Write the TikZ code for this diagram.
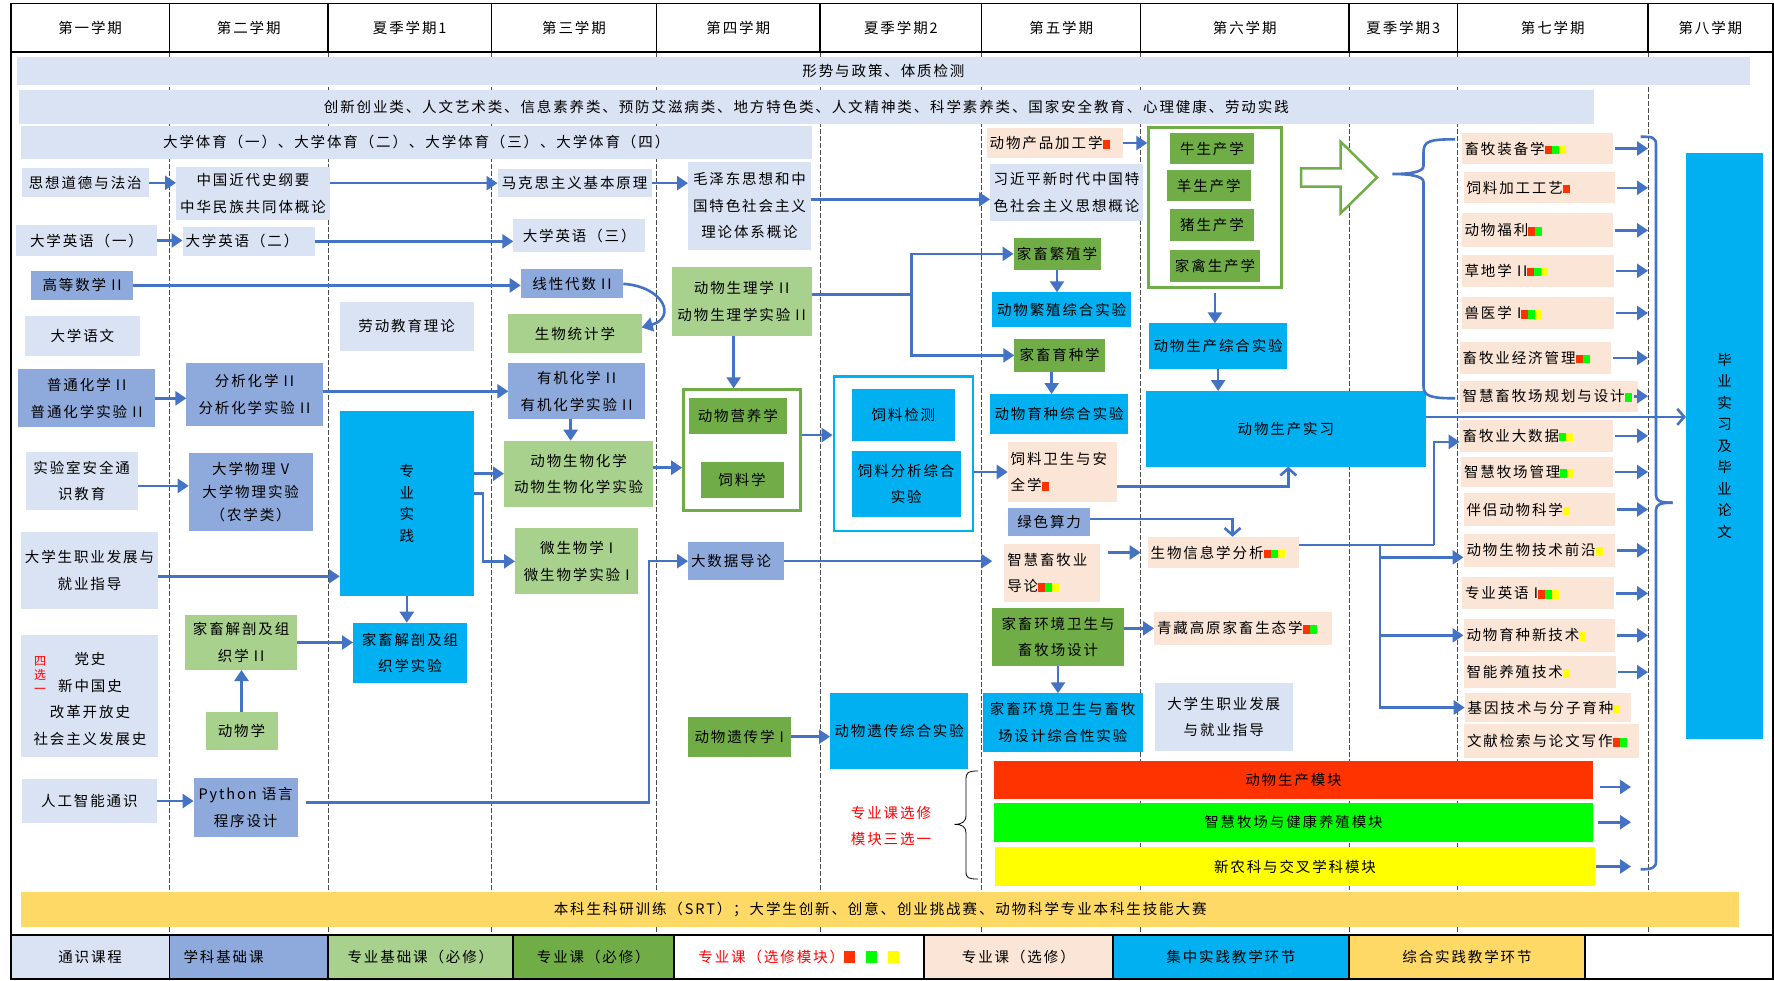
\documentclass[tikz,border=0pt]{standalone}
\usepackage{fontspec}
\setmainfont{Noto Sans CJK SC}[LetterSpace=13]
\usetikzlibrary{arrows.meta}
\definecolor{cgen}{HTML}{DAE3F3}
\definecolor{cbase}{HTML}{8EA9DB}
\definecolor{cpb}{HTML}{A9D18E}
\definecolor{cpm}{HTML}{70AD47}
\definecolor{cel}{HTML}{FBE5D6}
\definecolor{cpr}{HTML}{00B0F0}
\definecolor{csy}{HTML}{FFD966}
\definecolor{cln}{HTML}{4472C4}
\definecolor{mred}{HTML}{FF3300}
\definecolor{mgrn}{HTML}{00FF00}
\definecolor{myel}{HTML}{FFFF00}
\newcommand\mkR{\textcolor{mred}{\rule{7pt}{8.5pt}}}
\newcommand\mkG{\textcolor{mgrn}{\rule{7pt}{8.5pt}}}
\newcommand\mkY{\textcolor{myel}{\rule{7pt}{8.5pt}}}
\newcommand\bx[7]{\node[#6,anchor=north west,minimum width={(#4)-(#2)},minimum height={(#5)-(#3)}] (#1) at (#2,#3) {#7};}
\newcommand\bxl[7]{\node[#6,anchor=north west,minimum width={(#4)-(#2)},minimum height={(#5)-(#3)}] (#1) at (#2,#3) {};\node[#6,fill=none,draw=none,anchor=west,align=left] (#1t) at ([xshift=3pt]#1.west) {#7};}
\begin{document}
\begin{tikzpicture}[x=1pt,y=-1pt,
 bb/.style={inner sep=0pt,outer sep=0pt,align=center,font=\fontsize{14.5}{26.5}\selectfont},
 gen/.style={bb,fill=cgen},
 base/.style={bb,fill=cbase},
 pb/.style={bb,fill=cpb},
 pm/.style={bb,fill=cpm},
 el/.style={bb,fill=cel},
 pr/.style={bb,fill=cpr},
 vt/.style={font=\fontsize{14.5}{21.5}\selectfont},
 arr/.style={draw=cln,line width=2.6pt,-{Triangle[length=11pt,width=14pt]}},
 oarr/.style={draw=cln,line width=2.6pt,-{Straight Barb[length=7pt,width=16pt]}},
 bl/.style={draw=cln,line width=2.6pt},
 divl/.style={line width=0.9pt,black!70,dash pattern=on 5pt off 2pt},
 hd/.style={inner sep=0pt,font=\fontsize{14.5}{17}\selectfont}]
\useasboundingbox (0,0) rectangle (1774,980);
\fill[white] (0,0) rectangle (1774,980);

% column dividers
\foreach \x in {169.5,328,491.4,656.5,820,981.8,1140.6,1349,1457.5,1648}{
  \draw[line width=1.2pt] (\x,3.3) -- (\x,51.7);
  \draw[divl] (\x,51.7) -- (\x,935);
}
% header labels
\node[hd] (h1) at (90.1,27.5) {第一学期};
\node[hd] (h2) at (248.75,27.5) {第二学期};
\node[hd] (h3) at (409.7,27.5) {夏季学期1};
\node[hd] (h4) at (574,27.5) {第三学期};
\node[hd] (h5) at (738.25,27.5) {第四学期};
\node[hd] (h6) at (900.9,27.5) {夏季学期2};
\node[hd] (h7) at (1061.2,27.5) {第五学期};
\node[hd] (h8) at (1244.8,27.5) {第六学期};
\node[hd] (h9) at (1403.25,27.5) {夏季学期3};
\node[hd] (h10) at (1552.75,27.5) {第七学期};
\node[hd] (h11) at (1710.4,27.5) {第八学期};

% long bars
\bx{b1}{17.2}{56.7}{1749.7}{85}{gen}{形势与政策、体质检测}
\bx{b2}{19}{90}{1593.7}{124}{gen}{创新创业类、人文艺术类、信息素养类、预防艾滋病类、地方特色类、人文精神类、科学素养类、国家安全教育、心理健康、劳动实践}
\bx{b3}{21}{126}{811.5}{158.7}{gen}{大学体育（一）、大学体育（二）、大学体育（三）、大学体育（四）}

% column 1
\bx{sx}{22}{168.3}{148.5}{197.3}{gen}{思想道德与法治}
\bx{e1}{16}{225}{157}{256}{gen}{大学英语（一）}
\bx{gs}{31.4}{270.7}{132.8}{300}{base}{高等数学 II}
\bx{dyw}{25}{316}{139.7}{356}{gen}{大学语文}
\bx{ph}{18.4}{369.3}{155}{427.3}{base}{普通化学 II\\普通化学实验 II}
\bx{sy}{25.6}{451.7}{137.8}{510}{gen}{实验室安全通\\识教育}
\bx{zy}{21}{531.7}{158}{609}{gen}{大学生职业发展与\\就业指导}
\bx{sx4}{21}{635}{158}{757.3}{gen}{}
\node[bb,align=center] (sx4t) at (90,699) {党史\\新中国史\\改革开放史\\社会主义发展史};
\node[inner sep=0pt,text=red,align=center,font=\fontsize{12}{14}\selectfont] (sx4r) at (40,675) {四\\选\\一};
\bx{ai}{21.8}{779.3}{157}{822.7}{gen}{人工智能通识}

% column 2
\bx{zg}{176}{167.3}{330}{220}{gen}{中国近代史纲要\\中华民族共同体概论}
\bxl{e2}{182.5}{226.7}{314.6}{256}{gen}{大学英语（二）}
\bx{fx}{186.4}{363.3}{322.6}{425.7}{base}{分析化学 II\\分析化学实验 II}
\bx{wl}{188.7}{452.7}{312.7}{531}{base,font=\fontsize{14.5}{23}\selectfont}{大学物理 V\\大学物理实验\\（农学类）}
\bx{jp2}{184.8}{615}{297.4}{670}{pb}{家畜解剖及组\\织学 II}
\bx{dwx}{205.5}{711.7}{277.5}{750}{pb}{动物学}
\bx{py}{193.6}{778.3}{297.7}{836.7}{base}{Python 语言\\程序设计}

% column 3
\bx{ld}{339.5}{301.7}{473.8}{350.7}{gen}{劳动教育理论}
\bx{zs}{339.8}{410.7}{473.8}{595.7}{pr,vt}{专\\业\\实\\践}
\bx{jps}{353}{622.7}{467}{682.7}{pr}{家畜解剖及组\\织学实验}

% column 4
\bx{mk}{497.5}{169}{651.6}{197.3}{gen}{马克思主义基本原理}
\bx{e3}{513.3}{219.3}{645}{251.7}{gen}{大学英语（三）}
\bx{xd}{520.7}{269.3}{623.3}{298.3}{base}{线性代数 II}
\bx{sb}{508.3}{314.3}{641.7}{352.7}{pb}{生物统计学}
\bx{yj}{508.3}{363.3}{645}{419.3}{base}{有机化学 II\\有机化学实验 II}
\bx{dsh}{504}{440.7}{653.3}{506.7}{pb}{动物生物化学\\动物生物化学实验}
\bx{wsw}{515}{528.3}{638.3}{594.3}{pb}{微生物学 I\\微生物学实验 I}

% column 5
\bx{mz}{688}{161.7}{811}{250}{gen}{毛泽东思想和中\\国特色社会主义\\理论体系概论}
\bx{dsl}{671.8}{266.7}{811.5}{336}{pb}{动物生理学 II\\动物生理学实验 II}
\node[draw=cpm,line width=2.5pt,fill=white,anchor=north west,inner sep=0pt,minimum width=116.8pt,minimum height=121pt] (yyo) at (682.2,388.3) {};
\bx{yy}{689}{398.3}{786.7}{434.3}{pm}{动物营养学}
\bx{slx}{700.5}{462.3}{783.6}{498.3}{pm}{饲料学}
\bxl{dsj}{688}{542.3}{783.6}{580}{base}{大数据导论}
\bx{yc}{688}{716.7}{790.5}{756.7}{pm}{动物遗传学 I}

% column 6
\node[draw=cpr,line width=2.5pt,fill=white,anchor=north west,inner sep=0pt,minimum width=139pt,minimum height=154.5pt] (slo) at (832.6,375) {};
\bx{sjc}{851.7}{389.3}{955}{440.7}{pr}{饲料检测}
\bx{sfx}{851.7}{450.5}{960.7}{517}{pr}{饲料分析综合\\实验}
\bx{ycz}{830}{692.7}{968.4}{769.3}{pr}{动物遗传综合实验}
\node[bb,text=red,font=\fontsize{14.5}{26.7}\selectfont] (xxm) at (891,826) {专业课选修\\模块三选一};
\draw[line width=0.8pt] (978,771) .. controls (968,771) and (966,772) .. (966,780) -- (966,815) .. controls (966,822) and (962,824.3) .. (954.3,824.3) .. controls (962,824.3) and (966,826.6) .. (966,833) -- (966,871) .. controls (966,878) and (968,879) .. (978,879);

% column 7
\bxl{dpj}{986.7}{128.3}{1123.3}{157.7}{el}{动物产品加工学\mkR}
\bx{xj}{990}{164}{1143}{220.7}{gen}{习近平新时代中国特\\色社会主义思想概论}
\bx{fz}{1013.5}{237.7}{1100.5}{270}{pm}{家畜繁殖学}
\bx{fzz}{992.3}{292.3}{1131}{327.3}{pr}{动物繁殖综合实验}
\bx{yz}{1014.3}{339}{1105}{371.7}{pm}{家畜育种学}
\bx{yzz}{990}{394}{1128.3}{434.3}{pr}{动物育种综合实验}
\bxl{swa}{1007.7}{442.3}{1117.3}{501.7}{el}{饲料卫生与安\\全学\mkR}
\bx{lsl}{1008.3}{508.3}{1090}{535.7}{base}{绿色算力}
\bxl{zhd}{1004.3}{544.3}{1100}{601.7}{el}{智慧畜牧业\\导论\mkR\mkG\mkY}
\bx{hj}{991.7}{608.3}{1124.3}{666}{pm}{家畜环境卫生与\\畜牧场设计}
\bx{hjz}{982.7}{693.3}{1142.7}{751.7}{pr}{家畜环境卫生与畜牧\\场设计综合性实验}

% module bars
\bx{mr}{994}{761}{1593}{799}{bb,fill=mred}{动物生产模块}
\bx{mg}{994}{802.7}{1593}{841.7}{bb,fill=mgrn}{智慧牧场与健康养殖模块}
\bx{my}{995}{847.3}{1595}{885.7}{bb,fill=myel}{新农科与交叉学科模块}

% column 8
\node[draw=cpm,line width=2.5pt,fill=white,anchor=north west,inner sep=0pt,minimum width=132.7pt,minimum height=160pt] (gbox) at (1147.3,126) {};
\bx{n1}{1170}{132.7}{1254}{164.3}{pm}{牛生产学}
\bx{n2}{1166.7}{170}{1250.7}{201}{pm}{羊生产学}
\bx{n3}{1170}{209}{1254}{240.7}{pm}{猪生产学}
\bx{n4}{1170}{250}{1260}{281.7}{pm}{家禽生产学}
\bx{scz}{1149}{323.3}{1287.3}{369.3}{pr}{动物生产综合实验}
\bx{scs}{1145.7}{391}{1426}{466.7}{pr}{动物生产实习}
\bxl{sxx}{1147.7}{536.7}{1299.3}{568.3}{el}{生物信息学分析\mkR\mkG\mkY}
\bxl{qz}{1154}{611.7}{1331.8}{645}{el}{青藏高原家畜生态学\mkR\mkG}
\bx{zy2}{1155}{683.3}{1292.5}{750.7}{gen}{大学生职业发展\\与就业指导}
\draw[draw=cpm,line width=2.5pt,fill=white] (1301,168.3) -- (1340.6,168.3) -- (1340.6,141.7) -- (1377,177.5) -- (1340.6,213.3) -- (1340.6,186.7) -- (1301,186.7) -- cycle;

% column 10 electives
\bxl{k1}{1461.6}{132.7}{1613}{164.3}{el}{畜牧装备学\mkR\mkG\mkY}
\bxl{k2}{1463.5}{172.3}{1615}{203.3}{el}{饲料加工工艺\mkR}
\bxl{k3}{1461.6}{213.3}{1613}{247.3}{el}{动物福利\mkR\mkG}
\bxl{k4}{1461.6}{255}{1614}{286.7}{el}{草地学 II\mkR\mkG\mkY}
\bxl{k5}{1461.6}{296.7}{1614}{329.3}{el}{兽医学 I\mkR\mkG\mkY}
\bxl{k6}{1459.7}{341.7}{1611}{374}{el}{畜牧业经济管理\mkR\mkG}
\bxl{k7}{1459.7}{380.7}{1638}{411.7}{el}{智慧畜牧场规划与设计\mkG}
\bxl{k8}{1459.7}{420}{1613}{451.7}{el}{畜牧业大数据\mkG\mkY}
\bxl{k9}{1461}{457.3}{1613}{486.7}{el}{智慧牧场管理\mkG\mkY}
\bxl{k10}{1463.5}{493.3}{1615}{525.7}{el}{伴侣动物科学\mkY}
\bxl{k11}{1463.5}{534}{1615}{566.7}{el}{动物生物技术前沿\mkY}
\bxl{k12}{1462}{577.3}{1614}{609.3}{el}{专业英语 I\mkR\mkG\mkY}
\bxl{k13}{1463.5}{619}{1615}{651.7}{el}{动物育种新技术\mkY}
\bxl{k14}{1463.5}{656}{1615.7}{688.3}{el}{智能养殖技术\mkY}
\bxl{k15}{1464.7}{693.3}{1631}{721.7}{el}{基因技术与分子育种\mkY}
\bxl{k16}{1464}{724}{1638.8}{758.3}{el}{文献检索与论文写作\mkR\mkG}

% column 11
\bx{by}{1686}{152.7}{1763}{739}{pr,vt}{毕\\业\\实\\习\\及\\毕\\业\\论\\文}

% SRT bar
\bx{srt}{21}{892.3}{1739.3}{927.3}{bb,fill=csy}{本科生科研训练（SRT）；大学生创新、创意、创业挑战赛、动物科学专业本科生技能大赛}

% ---------- connectors ----------
\coordinate (j1) at (911.7,294.3);
\coordinate (j2) at (1433.9,545);
\coordinate (j3) at (1380,545);
\coordinate (j4) at (649,802.3);
\coordinate (rb) at (1648,0);
\coordinate (rbm) at (1631,0);

\draw[arr] (sx.east) -- (sx.east -| zg.west);
\draw[arr] (zg.east |- mk.west) -- (mk.west);
\draw[arr] (mk.east) -- (mk.east -| mz.west);
\coordinate (c4) at ([yshift=-7pt]xj.west);
\draw[arr] (mz.east |- c4) -- (c4);
\draw[arr] (e1.east) -- (e1.east -| e2.west);
\draw[arr] (e2.east) -- (e2.east -| e3.west);
\draw[arr] (gs.east) -- (gs.east -| xd.west);
\draw[arr] (xd.east) .. controls (665,287) and (676,318) .. ([yshift=6pt]sb.east);
\draw[arr] (ph.east) -- (ph.east -| fx.west);
\draw[arr] (fx.east |- yj.west) -- (yj.west);
\coordinate (c11) at ([xshift=-6pt]yj.south);
\draw[arr] (c11) -- (c11 |- dsh.north);
\coordinate (c12) at ([yshift=-5pt]sy.east);
\draw[arr] (c12) -- (c12 -| wl.west);
\coordinate (c13) at ([yshift=-6pt]zy.east);
\draw[arr] (c13) -- (c13 -| zs.west);
\draw[arr] (zs.east |- dsh.west) -- (dsh.west);
\coordinate (c15) at ([yshift=10pt]zs.east);
\draw[arr] (c15) -- ++(9,0) |- (wsw.west);
\draw[arr] (zs.south) -- (zs.south |- jps.north);
\draw[arr] (jp2.east) -- (jp2.east -| jps.west);
\draw[arr] (dwx.north) -- (dwx.north |- jp2.south);
\draw[arr] (ai.east) -- (ai.east -| py.west);
\coordinate (c20) at ([xshift=8pt]py.east);
\draw[arr] (c20 |- j4) -- (j4) |- (dsj.west);
\coordinate (c21) at ([xshift=-8pt]dsl.south);
\draw[arr] (c21) -- (c21 |- yyo.north);
\coordinate (c22) at ([yshift=6pt]dsh.east);
\draw[arr] (c22) -- (c22 -| yyo.west);
\coordinate (c23) at ([yshift=15pt]yyo.east);
\draw[arr] (c23) -- (c23 -| slo.west);
\draw[arr] (slo.east |- swa.west) -- (swa.west);
\draw[bl] (dsl.east |- j1) -- (j1);
\draw[arr] (j1) |- (fz.west);
\draw[arr] (j1) |- (yz.west);
\coordinate (c26) at ([xshift=-12pt]zhd.west);
\draw[arr] (dsj.east) -- (dsj.east -| c26);
\draw[arr] (yc.east) -- (yc.east -| ycz.west);
\draw[arr] (dpj.east) -- (dpj.east -| gbox.west);
\draw[arr] (fz.south) -- (fz.south |- fzz.north);
\coordinate (c31) at ([xshift=-8pt]yz.south);
\draw[arr] (c31) -- (c31 |- yzz.north);
\coordinate (c32) at ([yshift=-4pt]gbox.south);
\draw[arr] (c32) -- (c32 |- scz.north);
\draw[arr] (scz.south) -- (scz.south |- scs.north);
\coordinate (c34) at ([yshift=-14.7pt]swa.east);
\coordinate (c34b) at ([xshift=2.5pt]scs.south);
\draw[oarr] (c34) -| (c34b);
\coordinate (c35) at ([yshift=3pt]lsl.east);
\coordinate (c35b) at ([xshift=9pt]sxx.north);
\draw[oarr] (c35) -| (c35b);
\coordinate (c36) at ([xshift=8pt]zhd.east);
\draw[arr] (c36 |- sxx.west) -- ([xshift=-7pt]sxx.west);
\draw[arr] (hj.east |- qz.west) -- (qz.west);
\draw[arr] (hj.south) -- (hj.south |- hjz.north);
\draw[bl] (sxx.east |- j2) -- (j2);
\coordinate (c39) at ([yshift=-6pt]k8.west);
\draw[arr] (j2) |- (c39);
\draw[arr] (j3) |- (k15.west);
\coordinate (c39b) at ([yshift=-7pt]k11.west);
\draw[arr] (j3 |- c39b) -- (c39b);
\draw[arr] (j3 |- k13.west) -- (k13.west);
\coordinate (c43) at ([yshift=12pt]scs.east);
\draw[oarr] (c43) -- (c43 -| by.west);
% brace from hollow arrow
\draw[bl] (1455,139.3) .. controls (1430,139.3) and (1423.5,141) .. (1423.5,152) -- (1423.5,166) .. controls (1423.5,172) and (1410,174) .. (1392.3,174) .. controls (1410,174) and (1423.5,176) .. (1423.5,182) -- (1423.5,386) .. controls (1423.5,396) and (1430,398.3) .. (1455,398.3);
% elective arrows
\foreach \k in {k1,k2,k3,k4,k5,k6,k8,k9,k10,k11,k12,k13,k14}{
  \draw[arr] ([xshift=2pt]\k.east) -- (\k.east -| rb);
}
\draw[arr] ([xshift=-4pt]k7.east) -- (k7.east -| rb);
% module arrows
\coordinate (c42r) at ([xshift=7pt,yshift=-7pt]mr.east);
\draw[arr] (c42r) -- (c42r -| rbm);
\coordinate (c42g) at ([xshift=5pt]mg.east);
\draw[arr] (c42g) -- (c42g -| rbm);
\coordinate (c42y) at ([xshift=1pt]my.east);
\draw[arr] (c42y) -- (c42y -| rbm);
% right bracket
\draw[bl] (1640.7,136.7) .. controls (1652,136.7) and (1656,137) .. (1656,145) -- (1656,495) .. controls (1656,501) and (1660,502.7) .. (1672.7,502.7);
\draw[bl] (1672.7,502.7) .. controls (1660,502.7) and (1656,504.5) .. (1656,510) -- (1656,861) .. controls (1656,868) and (1652,869.3) .. (1640.7,869.3);

% legend
\bx{L1}{10.7}{935}{169.5}{979}{gen}{通识课程}
\bx{L2}{169.5}{935}{328}{979}{base}{}
\node[bb,anchor=west] (L2t) at ([xshift=14pt]L2.west) {学科基础课};
\bx{L3}{328}{935}{512.8}{979}{pb}{专业基础课（必修）}
\bx{L4}{512.8}{935}{673.8}{979}{pm}{专业课（必修）}
\bx{L5}{673.8}{935}{923.7}{979}{bb,fill=white}{\textcolor{red}{专业课（选修模块）}\textcolor{mred}{\rule{11pt}{12pt}}\hspace{11pt}\textcolor{mgrn}{\rule{11pt}{12pt}}\hspace{11pt}\textcolor{myel}{\rule{11pt}{12pt}}}
\bx{L6}{923.7}{935}{1113}{979}{el}{专业课（选修）}
\bx{L7}{1113}{935}{1349}{979}{pr}{集中实践教学环节}
\bx{L8}{1349}{935}{1585}{979}{bb,fill=csy}{综合实践教学环节}
\foreach \x in {169.5,328,512.8,673.8,923.7,1113,1349,1585}{
  \draw[line width=1.8pt] (\x,935) -- (\x,979);
}
% frame
\draw[line width=2pt] (10.7,51.7) -- (1772.8,51.7);
\draw[line width=2pt] (10.7,935) -- (1772.8,935);
\draw[line width=1.6pt] (10.7,3.3) rectangle (1772.8,979);
\end{tikzpicture}
\end{document}
